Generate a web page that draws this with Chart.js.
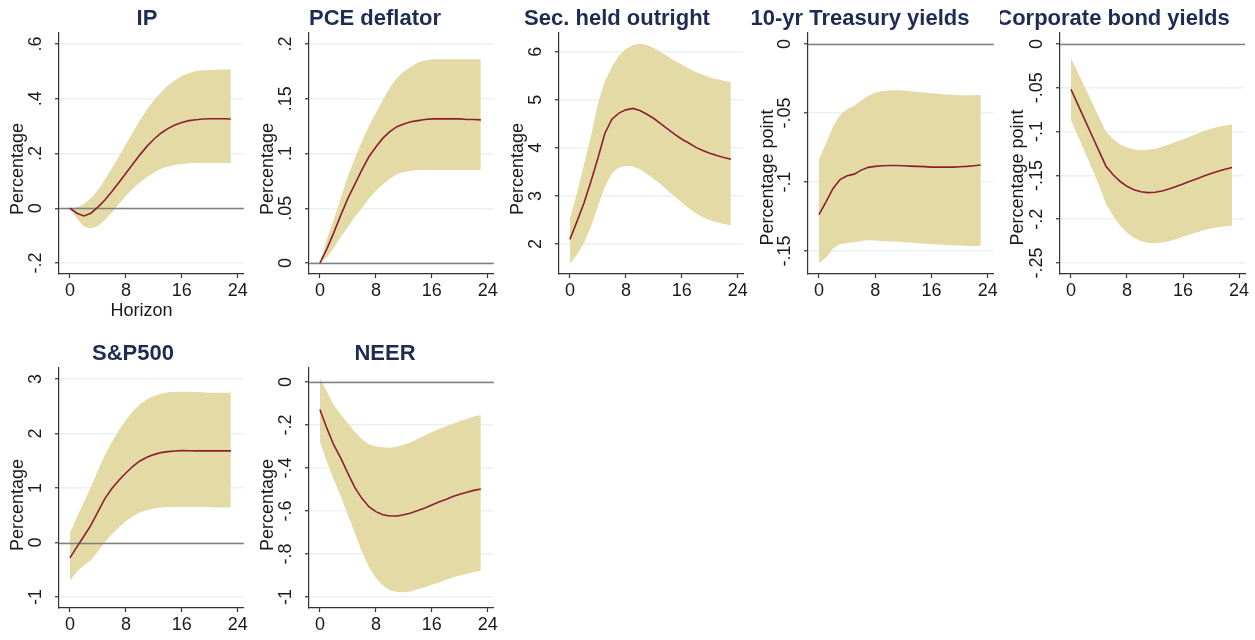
<!DOCTYPE html>
<html>
<head>
<meta charset="utf-8">
<script src="https://cdn.jsdelivr.net/npm/chart.js@4.4.0/dist/chart.umd.min.js"></script>
<style>
  body { margin: 0; background: #fff; }
  #wrap { position: relative; width: 1255px; height: 640px; }
  #wrap canvas { position: absolute; }
</style>
</head>
<body>
<div id="wrap"></div>
<script>
// impulse responses: point estimate (irf) and the lower / upper band
const horizon = [0, 1, 2, 3, 4, 5, 6, 7, 8, 9, 10, 11, 12, 13, 14, 15, 16, 17, 18, 19, 20, 21, 22, 23];
const xTicks = [0, 8, 16, 24];

const ipIrf = [0, -0.018, -0.028, -0.018, 0.004, 0.030, 0.061, 0.094, 0.128, 0.162, 0.195, 0.226, 0.252, 0.274, 0.291, 0.304, 0.313, 0.320, 0.323, 0.326, 0.327, 0.327, 0.327, 0.326];
const ipLo = [0, -0.037, -0.067, -0.074, -0.065, -0.043, -0.015, 0.016, 0.045, 0.071, 0.094, 0.113, 0.130, 0.144, 0.152, 0.159, 0.162, 0.164, 0.165, 0.165, 0.165, 0.165, 0.165, 0.165];
const ipHi = [0, 0.004, 0.016, 0.037, 0.067, 0.104, 0.146, 0.189, 0.234, 0.278, 0.321, 0.360, 0.394, 0.423, 0.448, 0.467, 0.483, 0.494, 0.501, 0.504, 0.505, 0.506, 0.507, 0.507];
const ipTicks = [-0.2, 0, 0.2, 0.4, 0.6];

const pceIrf = [0, 0.013, 0.028, 0.044, 0.059, 0.072, 0.085, 0.097, 0.106, 0.114, 0.120, 0.1245, 0.127, 0.129, 0.130, 0.131, 0.1316, 0.1316, 0.1316, 0.1316, 0.1316, 0.131, 0.131, 0.1307];
const pceLo = [0, 0.005, 0.014, 0.024, 0.033, 0.042, 0.050, 0.059, 0.066, 0.072, 0.077, 0.081, 0.083, 0.084, 0.085, 0.085, 0.085, 0.085, 0.085, 0.085, 0.085, 0.085, 0.085, 0.085];
const pceHi = [0, 0.022, 0.040, 0.060, 0.079, 0.096, 0.111, 0.125, 0.137, 0.149, 0.160, 0.169, 0.175, 0.179, 0.183, 0.185, 0.186, 0.186, 0.186, 0.186, 0.186, 0.186, 0.186, 0.186];
const pceTicks = [0, 0.05, 0.1, 0.15, 0.2];

const secIrf = [2.097, 2.465, 2.847, 3.30, 3.785, 4.305, 4.597, 4.722, 4.79, 4.82, 4.778, 4.70, 4.61, 4.50, 4.39, 4.28, 4.18, 4.10, 4.01, 3.944, 3.889, 3.84, 3.80, 3.764];
const secLo = [1.597, 1.77, 2.014, 2.36, 2.78, 3.19, 3.47, 3.59, 3.625, 3.61, 3.556, 3.458, 3.354, 3.236, 3.11, 2.986, 2.86, 2.743, 2.64, 2.556, 2.493, 2.45, 2.417, 2.39];
const secHi = [2.535, 3.055, 3.646, 4.236, 4.93, 5.38, 5.69, 5.917, 6.055, 6.14, 6.167, 6.14, 6.076, 5.99, 5.90, 5.81, 5.73, 5.65, 5.58, 5.52, 5.465, 5.43, 5.396, 5.368];
const secTicks = [2, 3, 4, 5, 6];

const tsyIrf = [-0.1236, -0.1144, -0.1047, -0.0982, -0.0955, -0.0943, -0.0914, -0.0894, -0.0887, -0.0882, -0.088, -0.088, -0.0882, -0.0885, -0.0887, -0.0889, -0.0892, -0.0892, -0.0892, -0.0892, -0.0889, -0.0887, -0.0882, -0.0877];
const tsyLo = [-0.1587, -0.1549, -0.1483, -0.1449, -0.1442, -0.1437, -0.1428, -0.1423, -0.1425, -0.1427, -0.143, -0.1432, -0.1437, -0.1439, -0.1444, -0.1447, -0.1452, -0.1454, -0.1457, -0.1459, -0.1461, -0.1464, -0.1464, -0.1464];
const tsyHi = [-0.0836, -0.072, -0.0599, -0.0514, -0.0473, -0.0448, -0.041, -0.0376, -0.0351, -0.0342, -0.0337, -0.0334, -0.0337, -0.0342, -0.0347, -0.0351, -0.0356, -0.0361, -0.0366, -0.0368, -0.0371, -0.0371, -0.0371, -0.0368];
const tsyTicks = [-0.15, -0.1, -0.05, 0];

const corpIrf = [-0.0516, -0.0692, -0.0868, -0.1044, -0.122, -0.1395, -0.149, -0.1567, -0.1625, -0.1663, -0.1686, -0.1697, -0.1693, -0.1678, -0.1655, -0.1628, -0.1598, -0.1567, -0.1537, -0.1506, -0.1479, -0.1453, -0.143, -0.141];
const corpLo = [-0.0868, -0.1051, -0.1235, -0.1418, -0.1613, -0.1823, -0.1957, -0.2072, -0.2156, -0.2213, -0.2252, -0.2271, -0.2274, -0.2267, -0.2252, -0.2229, -0.2202, -0.2175, -0.2148, -0.2125, -0.2106, -0.2091, -0.208, -0.2072];
const corpHi = [-0.0161, -0.0329, -0.0497, -0.0665, -0.0833, -0.1002, -0.1082, -0.1143, -0.1181, -0.1204, -0.1212, -0.1208, -0.1196, -0.1174, -0.1147, -0.1116, -0.1086, -0.1055, -0.1024, -0.0994, -0.0967, -0.0944, -0.0929, -0.0917];
const corpTicks = [-0.25, -0.2, -0.15, -0.1, -0.05, 0];

const spIrf = [-0.281, -0.079, 0.116, 0.318, 0.562, 0.806, 0.989, 1.142, 1.276, 1.398, 1.496, 1.563, 1.612, 1.649, 1.667, 1.679, 1.685, 1.683, 1.68, 1.68, 1.68, 1.68, 1.68, 1.68];
const spLo = [-0.702, -0.537, -0.415, -0.324, -0.171, 0.012, 0.153, 0.275, 0.391, 0.482, 0.55, 0.592, 0.623, 0.641, 0.653, 0.653, 0.653, 0.653, 0.653, 0.653, 0.653, 0.641, 0.641, 0.641];
const spHi = [0.177, 0.47, 0.745, 1.02, 1.325, 1.60, 1.844, 2.058, 2.24, 2.406, 2.534, 2.626, 2.687, 2.73, 2.754, 2.766, 2.766, 2.766, 2.76, 2.754, 2.748, 2.748, 2.748, 2.748];
const spTicks = [-1, 0, 1, 2, 3];

const neerIrf = [-0.128, -0.216, -0.294, -0.355, -0.425, -0.491, -0.541, -0.58, -0.603, -0.617, -0.623, -0.623, -0.617, -0.609, -0.598, -0.586, -0.572, -0.558, -0.546, -0.533, -0.522, -0.513, -0.504, -0.498];
const neerLo = [-0.278, -0.371, -0.456, -0.533, -0.618, -0.703, -0.788, -0.862, -0.912, -0.946, -0.968, -0.977, -0.978, -0.974, -0.964, -0.954, -0.943, -0.932, -0.92, -0.909, -0.90, -0.892, -0.884, -0.878];
const neerHi = [0.0185, -0.046, -0.108, -0.151, -0.193, -0.232, -0.266, -0.289, -0.30, -0.304, -0.306, -0.301, -0.292, -0.28, -0.264, -0.249, -0.233, -0.219, -0.206, -0.195, -0.182, -0.172, -0.161, -0.153];
const neerTicks = [-1, -0.8, -0.6, -0.4, -0.2, 0];

const BAND = 'rgb(228, 218, 166)';
const LINE = 'rgb(140, 30, 48)';
const GRID = 'rgb(233, 241, 244)';
const ZERO = 'rgb(128, 128, 128)';
const AXIS = '#333333';
const TEXT = '#1a1a1a';
const TITLE = 'rgb(30, 44, 84)';
const FONT = "'Liberation Sans', Arial, sans-serif";

Chart.defaults.font.family = FONT;

// stata style number: .2, -.05
const stataNum = v => String(v).replace('0.', '.');

// zero line over the band, rotated y labels, panel titles
const panelDecor = {
  id: 'panelDecor',
  beforeDatasetDraw(chart, args) {
    if (args.index !== 0) return;
    const y = chart.scales.y;
    if (y.min > 0 || y.max < 0) return;
    const py = Math.round(y.getPixelForValue(0)) + 0.5;
    const ctx = chart.ctx;
    ctx.save();
    ctx.strokeStyle = ZERO;
    ctx.lineWidth = 1.5;
    ctx.beginPath();
    ctx.moveTo(chart.chartArea.left, py);
    ctx.lineTo(chart.chartArea.right, py);
    ctx.stroke();
    ctx.restore();
  },
  afterDraw(chart, args, opts) {
    const ctx = chart.ctx;
    const y = chart.scales.y;
    const left = chart.chartArea.left;
    ctx.save();
    ctx.fillStyle = TEXT;
    ctx.textAlign = 'center';
    ctx.textBaseline = 'middle';
    ctx.font = '18px ' + FONT;
    y.ticks.forEach(t => {
      ctx.save();
      ctx.translate(left - 23, y.getPixelForValue(t.value));
      ctx.rotate(-Math.PI / 2);
      ctx.fillText(stataNum(t.value), 0, 0);
      ctx.restore();
    });
    ctx.save();
    ctx.translate(18.5, opts.yTitleY);
    ctx.rotate(-Math.PI / 2);
    ctx.fillText(opts.yTitle, 0, 0);
    ctx.restore();
    if (opts.xTitle) {
      ctx.textBaseline = 'alphabetic';
      ctx.fillText(opts.xTitle, opts.xTitleX, 316);
    }
    ctx.fillStyle = TITLE;
    ctx.font = 'bold 22px ' + FONT;
    ctx.textBaseline = 'alphabetic';
    ctx.fillText(opts.title, opts.titleX, 25);
    ctx.restore();
  }
};

const panels = [
  { title: 'IP', irf: ipIrf, lo: ipLo, hi: ipHi, yTicks: ipTicks, yMin: -0.24, yMax: 0.64,
    yTitle: 'Percentage', yTitleY: 169, xTitle: 'Horizon', xTitleX: 141.5,
    left: 0, top: 0, w: 250, h: 320, axisX: 59, titleX: 147 },
  { title: 'PCE deflator', irf: pceIrf, lo: pceLo, hi: pceHi, yTicks: pceTicks, yMin: -0.01, yMax: 0.21,
    yTitle: 'Percentage', yTitleY: 169,
    left: 250, top: 0, w: 250, h: 320, axisX: 59, titleX: 125 },
  { title: 'Sec. held outright', irf: secIrf, lo: secLo, hi: secHi, yTicks: secTicks, yMin: 1.376, yMax: 6.389,
    yTitle: 'Percentage', yTitleY: 169,
    left: 500, top: 0, w: 250, h: 320, axisX: 59, titleX: 117 },
  { title: '10-yr Treasury yields', irf: tsyIrf, lo: tsyLo, hi: tsyHi, yTicks: tsyTicks, yMin: -0.1667, yMax: 0.008,
    yTitle: 'Percentage point', yTitleY: 177.5,
    left: 750, top: 0, w: 250, h: 320, axisX: 58, titleX: 110 },
  { title: 'Corporate bond yields', irf: corpIrf, lo: corpLo, hi: corpHi, yTicks: corpTicks, yMin: -0.2626, yMax: 0.0126,
    yTitle: 'Percentage point', yTitleY: 177.5,
    left: 1000, top: 0, w: 255, h: 320, axisX: 60, titleX: 113 },
  { title: 'S&P500', irf: spIrf, lo: spLo, hi: spHi, yTicks: spTicks, yMin: -1.2, yMax: 3.2,
    yTitle: 'Percentage', yTitleY: 170,
    left: 0, top: 335, w: 250, h: 305, axisX: 59, titleX: 133 },
  { title: 'NEER', irf: neerIrf, lo: neerLo, hi: neerHi, yTicks: neerTicks, yMin: -1.051, yMax: 0.065,
    yTitle: 'Percentage', yTitleY: 170,
    left: 250, top: 335, w: 250, h: 305, axisX: 59, titleX: 135 }
];

const wrap = document.getElementById('wrap');

function drawPanel(p) {
  const canvas = document.createElement('canvas');
  canvas.width = p.w;
  canvas.height = p.h;
  canvas.style.left = p.left + 'px';
  canvas.style.top = p.top + 'px';
  wrap.appendChild(canvas);

  const pts = vals => horizon.map((h, i) => ({ x: h, y: vals[i] }));
  const plotBottom = p.top === 0 ? 274 : 273;

  new Chart(canvas, {
    type: 'line',
    data: {
      datasets: [
        { data: pts(p.irf), borderColor: LINE, borderWidth: 1.6, pointRadius: 0, tension: 0, fill: false },
        { data: pts(p.lo), borderColor: 'transparent', borderWidth: 0, pointRadius: 0, fill: false },
        { data: pts(p.hi), borderColor: 'transparent', borderWidth: 0, pointRadius: 0, fill: '-1', backgroundColor: BAND }
      ]
    },
    plugins: [panelDecor],
    options: {
      responsive: false,
      animation: false,
      events: [],
      layout: { padding: { top: 33, left: 0, right: p.w - 245, bottom: 0 } },
      plugins: {
        legend: { display: false },
        tooltip: { enabled: false },
        panelDecor: p
      },
      scales: {
        x: {
          type: 'linear',
          min: -1.56,
          max: 24.85,
          afterBuildTicks: s => { s.ticks = xTicks.map(v => ({ value: v })); },
          afterFit: s => { s.height = p.h - plotBottom; },
          grid: { drawOnChartArea: false, tickLength: 4, tickColor: AXIS, tickWidth: 1.2 },
          border: { color: AXIS, width: 1.2 },
          ticks: { color: TEXT, font: { size: 18 }, padding: 2, maxRotation: 0, autoSkip: false }
        },
        y: {
          min: p.yMin,
          max: p.yMax,
          afterBuildTicks: s => { s.ticks = p.yTicks.map(v => ({ value: v })); },
          afterFit: s => { s.width = p.axisX; },
          grid: { color: GRID, lineWidth: 1.5, tickLength: 4, tickColor: AXIS, tickWidth: 1.2 },
          border: { color: AXIS, width: 1.2 },
          ticks: { display: false }
        }
      }
    }
  });
}

panels.forEach(drawPanel);
</script>
</body>
</html>
